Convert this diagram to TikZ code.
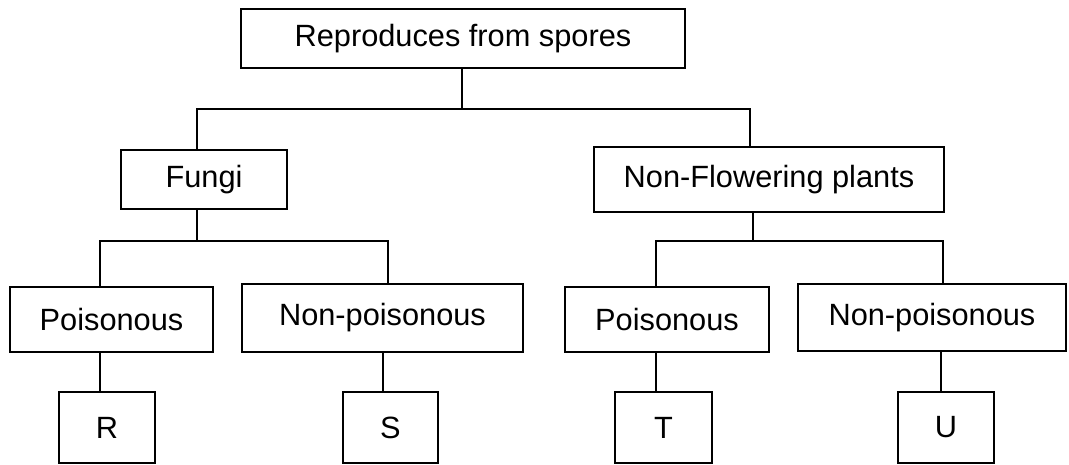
\documentclass[tikz,border=0pt]{standalone}
\usepackage{fontspec}
\setmainfont{Liberation Sans}
\usetikzlibrary{positioning}

\begin{document}
\begin{tikzpicture}[x=0.02cm, y=-0.02cm, line width=1.3pt,
  box/.style={draw, inner sep=0pt, font=\fontsize{17.5}{20}\selectfont}]
  \useasboundingbox (0,0) rectangle (1069,464);
  \node[box, minimum width=8.88cm, minimum height=1.18cm] (spores) at (463,38.5) {Reproduces from spores};
  \node[box, minimum width=3.32cm, minimum height=1.18cm] (fungi) at (204,179.5) {Fungi};
  \node[box, minimum width=7cm, minimum height=1.3cm] (nfp) at (769,179.5) {Non-Flowering plants};
  \node[box, minimum width=4.06cm, minimum height=1.3cm] (pois1) at (111.5,319.5) {Poisonous};
  \node[box, minimum width=5.62cm, minimum height=1.36cm] (npois1) at (382.5,318) {Non-poisonous};
  \node[box, minimum width=4.08cm, minimum height=1.3cm] (pois2) at (667,319.5) {Poisonous};
  \node[box, minimum width=5.36cm, minimum height=1.34cm] (npois2) at (932,317.5) {Non-poisonous};
  \node[box, minimum width=1.92cm, minimum height=1.42cm] (r) at (107,427.5) {R};
  \node[box, minimum width=1.9cm, minimum height=1.42cm] (s) at (390.5,427.5) {S};
  \node[box, minimum width=1.94cm, minimum height=1.42cm] (t) at (663.5,427.5) {T};
  \node[box, minimum width=1.92cm, minimum height=1.42cm] (u) at (946,427.5) {U};

  \coordinate (a0) at (462,109);
  \coordinate (a1) at (197,109);
  \coordinate (a2) at (750,109);
  \draw (spores.south -| a0) -- (a0);
  \draw (fungi.north -| a1) -- (a1) -- (a2) -- (nfp.north -| a2);

  \coordinate (b0) at (197,241);
  \coordinate (b1) at (100,241);
  \coordinate (b2) at (388,241);
  \draw (fungi.south -| b0) -- (b0);
  \draw (pois1.north -| b1) -- (b1) -- (b2) -- (npois1.north -| b2);

  \coordinate (c0) at (753,241);
  \coordinate (c1) at (656,241);
  \coordinate (c2) at (943,241);
  \draw (nfp.south -| c0) -- (c0);
  \draw (pois2.north -| c1) -- (c1) -- (c2) -- (npois2.north -| c2);

  \draw ([xshift=-0.14cm]r.north) -- ([xshift=-0.14cm]r.north |- pois1.south);
  \draw ([xshift=-0.15cm]s.north) -- ([xshift=-0.15cm]s.north |- npois1.south);
  \draw ([xshift=-0.15cm]t.north) -- ([xshift=-0.15cm]t.north |- pois2.south);
  \draw ([xshift=-0.1cm]u.north) -- ([xshift=-0.1cm]u.north |- npois2.south);
\end{tikzpicture}
\end{document}
